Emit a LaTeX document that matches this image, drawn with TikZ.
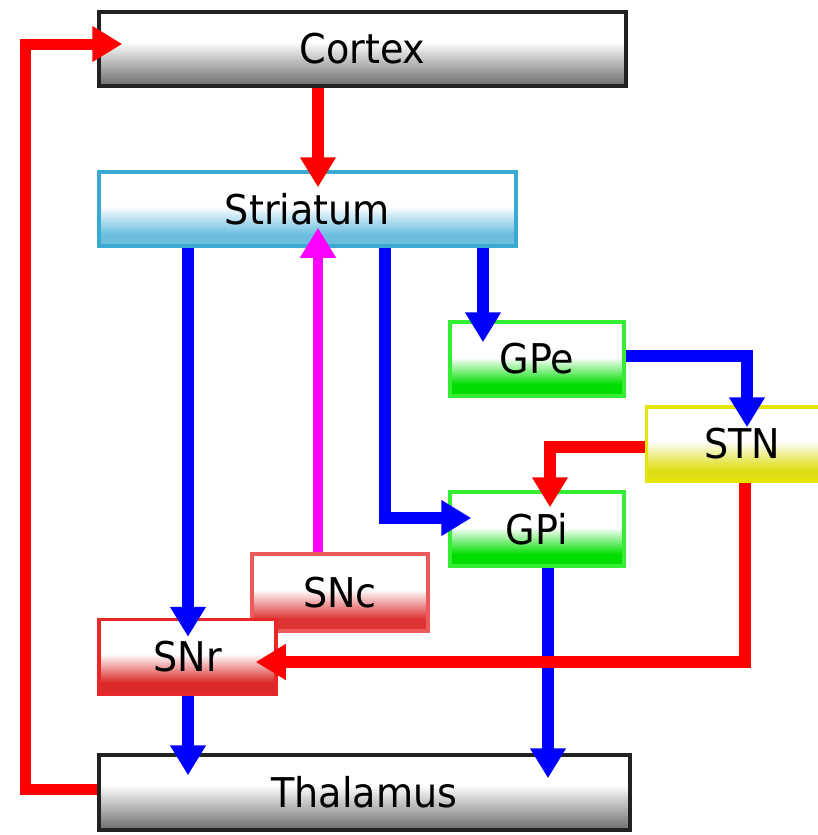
\documentclass[tikz,border=0pt]{standalone}
\usepackage{fontspec}
\setmainfont{DejaVu Sans}[FakeStretch=0.93]
\usetikzlibrary{arrows.meta,calc}
\definecolor{greyline}{HTML}{222222}
\definecolor{greybot}{HTML}{6E6E6E}
\definecolor{cyanline}{HTML}{3AAAD2}
\definecolor{cyanbot}{HTML}{6CBEE0}
\definecolor{greenline}{HTML}{33EE33}
\definecolor{greenbot}{HTML}{00DD00}
\definecolor{yelline}{HTML}{E6E600}
\definecolor{yelbot}{HTML}{DEDE18}
\definecolor{redline}{HTML}{E82828}
\definecolor{redbot}{HTML}{DA2A2A}
\definecolor{snclbot}{HTML}{DE3434}
\definecolor{sncline}{HTML}{EC5A5A}
\definecolor{arrred}{HTML}{FF0000}
\definecolor{arrblue}{HTML}{0000FF}
\definecolor{arrmag}{HTML}{FF00FF}
\pgfdeclareverticalshading{greyshade}{100bp}{color(0bp)=(greybot); color(25bp)=(greybot); color(28bp)=(greybot!92); color(45bp)=(greybot!35); color(55bp)=(white); color(100bp)=(white)}
\pgfdeclareverticalshading{cyanshade}{100bp}{color(0bp)=(cyanbot); color(25bp)=(cyanbot); color(33bp)=(cyanbot); color(52bp)=(white); color(100bp)=(white)}
\pgfdeclareverticalshading{greenshade}{100bp}{color(0bp)=(greenbot); color(25bp)=(greenbot); color(33bp)=(greenbot); color(51bp)=(white); color(100bp)=(white)}
\pgfdeclareverticalshading{yelshade}{100bp}{color(0bp)=(yelbot); color(25bp)=(yelbot); color(33bp)=(yelbot); color(52bp)=(white); color(100bp)=(white)}
\pgfdeclareverticalshading{redshade}{100bp}{color(0bp)=(redbot); color(25bp)=(redbot); color(33bp)=(redbot); color(52bp)=(white); color(100bp)=(white)}
\pgfdeclareverticalshading{sncshade}{100bp}{color(0bp)=(snclbot); color(25bp)=(snclbot); color(33bp)=(snclbot); color(52bp)=(white); color(100bp)=(white)}
\begin{document}
\begin{tikzpicture}[x=1pt,y=1pt,
  box/.style={rectangle, line width=3.5pt, inner sep=0pt, shade,
    font=\fontsize{41}{44}\selectfont, text=black},
  greybox/.style={box, draw=greyline, shading=greyshade},
  cyanbox/.style={box, draw=cyanline, shading=cyanshade},
  greenbox/.style={box, draw=greenline, shading=greenshade},
  yelbox/.style={box, draw=yelline, shading=yelshade},
  redbox/.style={box, draw=redline, shading=redshade},
  sncbox/.style={box, draw=sncline, shading=sncshade},
  conn/.style={line width=12pt, -{Triangle[width=34pt,length=30pt]}},
  redconn/.style={conn, draw=arrred},
  blueconn/.style={conn, draw=arrblue},
  magconn/.style={conn, draw=arrmag}
]
\useasboundingbox (0,0) rectangle (818,-835);

\node[greybox, minimum width=527pt, minimum height=74pt] (cortex) at (362.5,-49) {Cortex};
\node[cyanbox, minimum width=417pt, minimum height=74pt] (striatum) at (307.5,-209) {Striatum};
\node[greenbox, minimum width=174pt, minimum height=74pt] (gpe) at (537,-359) {GPe};
\node[yelbox, minimum width=191pt, minimum height=74pt] (stn) at (742,-444) {STN};
\node[greenbox, minimum width=174pt, minimum height=74pt] (gpi) at (537,-529) {GPi};
\node[sncbox, minimum width=176pt, minimum height=77pt] (snc) at (340,-592.5) {SNc};
\node[redbox, minimum width=177pt, minimum height=75pt] (snr) at (187.5,-657) {SNr};
\node[greybox, minimum width=531pt, minimum height=75pt] (thalamus) at (364.5,-792.5) {Thalamus};

% Cortex -> Striatum
\draw[redconn] ([xshift=-44.5pt]cortex.south) -- ([xshift=10.5pt,yshift=-17pt]striatum.north);
% Thalamus -> Cortex
\draw[redconn, line width=11pt] ([yshift=3pt]thalamus.west) -- ++(-72,0) |- ([xshift=25pt,yshift=5pt]cortex.west);
% SNc -> Striatum
\draw[magconn, line width=10pt] ([xshift=-22pt]snc.north) -- ([xshift=10.5pt,yshift=20pt]striatum.south);
% Striatum -> SNr
\draw[blueconn] ([xshift=-119.5pt]striatum.south) -- ([xshift=0.5pt,yshift=-19pt]snr.north);
% Striatum -> GPi
\draw[blueconn] ([xshift=77.5pt]striatum.south) |- ([xshift=23pt,yshift=11pt]gpi.west);
% Striatum -> GPe
\draw[blueconn] ([xshift=175.5pt]striatum.south) -- ([xshift=-54pt,yshift=-22pt]gpe.north);
% GPe -> STN
\draw[blueconn] ([yshift=3pt]gpe.east) -| ([xshift=5pt,yshift=-22pt]stn.north);
% STN -> GPi
\draw[redconn] ([yshift=-3pt]stn.west) -| ([xshift=13pt,yshift=-17pt]gpi.north);
% GPi -> Thalamus
\draw[blueconn] ([xshift=11pt]gpi.south) -- ([xshift=183.5pt,yshift=-25pt]thalamus.north);
% SNr -> Thalamus
\draw[blueconn] ([xshift=0.5pt]snr.south) -- ([xshift=-176.5pt,yshift=-22pt]thalamus.north);
% STN -> SNr
\draw[redconn] ([xshift=3pt]stn.south) |- ([xshift=-22pt,yshift=-5pt]snr.east);
\end{tikzpicture}
\end{document}
